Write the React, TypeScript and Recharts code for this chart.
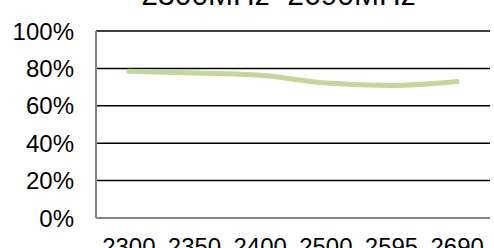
import { LineChart, Line, XAxis, YAxis, CartesianGrid } from 'recharts'

const bands = ['2300', '2350', '2400', '2500', '2595', '2690']
const efficiency = [78.5, 77.5, 76.3, 72.2, 70.9, 73]
const yTicks = [0, 20, 40, 60, 80, 100]
const title = '2300MHz~2690MHz'

const data = bands.map((band, i) => ({ band, value: efficiency[i] }))

const font = '"Liberation Sans", Arial, sans-serif'

export default function App() {
  return (
    <div
      style={{
        position: 'absolute',
        left: 0,
        top: 0,
        width: 494,
        height: 248,
        overflow: 'hidden',
        background: '#fff',
        fontFamily: font,
      }}
    >
      <div
        style={{
          position: 'absolute',
          left: 122,
          top: -20,
          width: 313,
          textAlign: 'center',
          fontSize: 30,
          lineHeight: '30px',
          color: '#000',
          whiteSpace: 'nowrap',
        }}
      >
        {title}
      </div>
      <LineChart width={494} height={248} data={data} margin={{ top: 31, right: 4, bottom: 0, left: 0 }}>
        <CartesianGrid vertical={false} stroke="#000" strokeWidth={1.5} yAxisId="left" />
        <XAxis
          dataKey="band"
          scale="band"
          height={30}
          tickLine={false}
          tickSize={0}
          tickMargin={20}
          axisLine={{ stroke: '#868686', strokeWidth: 2 }}
          tick={{ fill: '#000', fontSize: 24, fontFamily: font }}
          interval={0}
        />
        <YAxis
          yAxisId="left"
          domain={[0, 100]}
          ticks={yTicks}
          tickFormatter={(v) => `${v}%`}
          width={96}
          tickLine={false}
          tickSize={0}
          tickMargin={22}
          axisLine={{ stroke: '#868686', strokeWidth: 2 }}
          tick={{ fill: '#000', fontSize: 24, fontFamily: font }}
        />
        <YAxis
          yAxisId="right"
          orientation="right"
          domain={[0, 100]}
          width={0}
          tick={false}
          tickLine={false}
          axisLine={{ stroke: '#000', strokeWidth: 2 }}
        />
        <Line
          yAxisId="left"
          type="monotone"
          dataKey="value"
          stroke="#c3d69b"
          strokeWidth={5}
          strokeLinecap="round"
          dot={false}
          isAnimationActive={false}
        />
      </LineChart>
    </div>
  )
}
